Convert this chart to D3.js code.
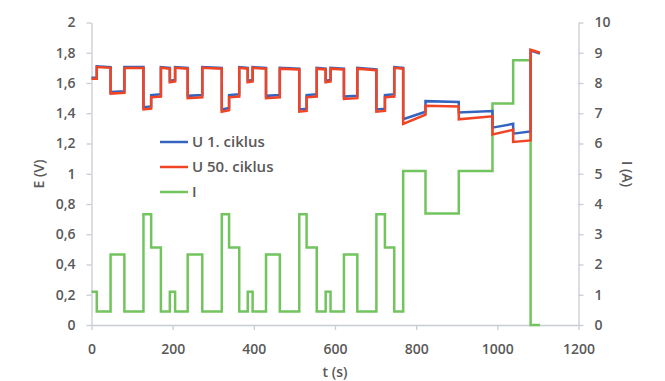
<!DOCTYPE html>
<html>
<head>
<meta charset="utf-8">
<script src="https://cdn.jsdelivr.net/npm/d3@7"></script>
<style>
  body { margin: 0; background: #fff; }
  text { font-family: "Open Sans", "Liberation Sans", sans-serif; fill: #595959; font-weight: 600; }
</style>
</head>
<body>
<div id="chart"></div>
<script>
// hranice segmentov (s)
var segT = [0, 13, 47, 81, 128, 147, 171, 193, 206, 237, 273, 321, 339, 364, 385, 397, 430,
            464, 512, 530, 555, 577, 589, 622, 655, 702, 723, 746, 768, 823, 905, 988, 1039, 1082, 1105];

// prúd v každom segmente (A)
var segI = [1.1, 0.45, 2.33, 0.45, 3.66, 2.56, 0.45, 1.1, 0.45, 2.33, 0.45, 3.66, 2.56, 0.45, 1.1, 0.45, 2.33,
            0.45, 3.66, 2.56, 0.45, 1.1, 0.45, 2.33, 0.45, 3.66, 2.56, 0.45, 5.09, 3.69, 5.09, 7.32, 8.75, 0];

// napätie na začiatku a na konci segmentu (V)
var u1 = [[1.635,1.635],[1.71,1.705],[1.54,1.545],[1.705,1.705],[1.44,1.445],[1.52,1.525],[1.705,1.70],[1.615,1.62],
          [1.705,1.70],[1.515,1.52],[1.705,1.70],[1.425,1.435],[1.52,1.525],[1.705,1.70],[1.615,1.62],[1.705,1.70],
          [1.515,1.52],[1.70,1.695],[1.425,1.43],[1.52,1.525],[1.70,1.695],[1.615,1.62],[1.70,1.695],[1.51,1.515],
          [1.70,1.69],[1.425,1.43],[1.52,1.525],[1.705,1.70],[1.36,1.41],[1.48,1.475],[1.405,1.415],[1.305,1.33],
          [1.265,1.28],[1.815,1.795]];

var u50 = [[1.628,1.628],[1.705,1.70],[1.53,1.535],[1.70,1.70],[1.425,1.43],[1.505,1.51],[1.70,1.695],[1.605,1.61],
           [1.70,1.695],[1.50,1.505],[1.70,1.695],[1.41,1.42],[1.505,1.51],[1.70,1.695],[1.605,1.61],[1.70,1.695],
           [1.50,1.505],[1.695,1.69],[1.41,1.415],[1.505,1.51],[1.695,1.69],[1.605,1.61],[1.695,1.69],[1.495,1.50],
           [1.695,1.685],[1.41,1.415],[1.505,1.51],[1.70,1.695],[1.33,1.39],[1.45,1.445],[1.36,1.38],[1.26,1.29],
           [1.21,1.22],[1.82,1.80]];

var eTicks = d3.range(0, 2.001, 0.2);
var iTicks = d3.range(0, 11, 1);
var tTicks = d3.range(0, 1201, 200);

var legendItems = [
  {name: "U 1. ciklus", color: "#3464c0"},
  {name: "U 50. ciklus", color: "#f04424"},
  {name: "I", color: "#72c45e"}
];

var width = 665, height = 381;

var svg = d3.select("#chart").append("svg")
  .attr("width", width)
  .attr("height", height);

svg.append("rect").attr("width", width).attr("height", height).attr("fill", "#fff");

var x = d3.scaleLinear().domain([0, 1200]).range([91.5, 578.5]);
var yE = d3.scaleLinear().domain([0, 2]).range([325, 22.5]);
var yI = d3.scaleLinear().domain([0, 10]).range([325, 22.5]);

var fmt = function(d) { return d3.format("~g")(+d.toFixed(2)).replace(".", ","); };

// osi
function styleAxis(g) {
  g.select(".domain").attr("stroke", "#c8ccd4").attr("stroke-width", 1.3);
  g.selectAll(".tick line").attr("stroke", "#c8ccd4").attr("stroke-width", 1.3);
  g.selectAll(".tick text").style("font-size", "14px").attr("fill", "#595959");
}

svg.append("g")
  .attr("transform", "translate(" + x(0) + ",0)")
  .call(d3.axisLeft(yE).tickValues(eTicks).tickFormat(fmt).tickSize(5).tickPadding(11).tickSizeOuter(0))
  .call(styleAxis);

svg.append("g")
  .attr("transform", "translate(" + x(1200) + ",0)")
  .call(d3.axisRight(yI).tickValues(iTicks).tickFormat(d3.format("d")).tickSize(5).tickPadding(11).tickSizeOuter(0))
  .call(styleAxis);

svg.append("g")
  .attr("transform", "translate(0," + yE(0) + ")")
  .call(d3.axisBottom(x).tickValues(tTicks).tickFormat(d3.format("d")).tickSize(5).tickPadding(14).tickSizeOuter(0))
  .call(styleAxis);

// názvy osí
svg.append("text")
  .attr("transform", "translate(44,174) rotate(-90)")
  .attr("text-anchor", "middle")
  .style("font-size", "14px")
  .text("E (V)");

svg.append("text")
  .attr("transform", "translate(622,174) rotate(90)")
  .attr("text-anchor", "middle")
  .style("font-size", "14px")
  .text("I (A)");

svg.append("text")
  .attr("x", 335)
  .attr("y", 377)
  .attr("text-anchor", "middle")
  .style("font-size", "14px")
  .text("t (s)");

// body čiar
function stepPoints(vals) {
  var pts = [];
  vals.forEach(function(v, i) {
    pts.push([segT[i], v[0]]);
    pts.push([segT[i + 1], v[1]]);
  });
  return pts;
}

var iPts = stepPoints(segI.map(function(v) { return [v, v]; }));

var lineE = d3.line().x(function(d) { return x(d[0]); }).y(function(d) { return yE(d[1]); });
var lineI = d3.line().x(function(d) { return x(d[0]); }).y(function(d) { return yI(d[1]); });

svg.append("path")
  .datum(iPts)
  .attr("d", lineI)
  .attr("fill", "none")
  .attr("stroke", legendItems[2].color)
  .attr("stroke-width", 2.5);

svg.append("path")
  .datum(stepPoints(u1))
  .attr("d", lineE)
  .attr("fill", "none")
  .attr("stroke", legendItems[0].color)
  .attr("stroke-width", 2.5);

svg.append("path")
  .datum(stepPoints(u50))
  .attr("d", lineE)
  .attr("fill", "none")
  .attr("stroke", legendItems[1].color)
  .attr("stroke-width", 2.5);

// legenda
var leg = svg.selectAll(".leg")
  .data(legendItems)
  .enter()
  .append("g")
  .attr("class", "leg")
  .attr("transform", function(d, i) { return "translate(160," + (142 + i * 25) + ")"; });

leg.append("line")
  .attr("x1", 0).attr("x2", 28)
  .attr("stroke", function(d) { return d.color; })
  .attr("stroke-width", 2.5);

leg.append("text")
  .attr("x", 32)
  .attr("dy", "0.36em")
  .style("font-size", "15px")
  .text(function(d) { return d.name; });
</script>
</body>
</html>
